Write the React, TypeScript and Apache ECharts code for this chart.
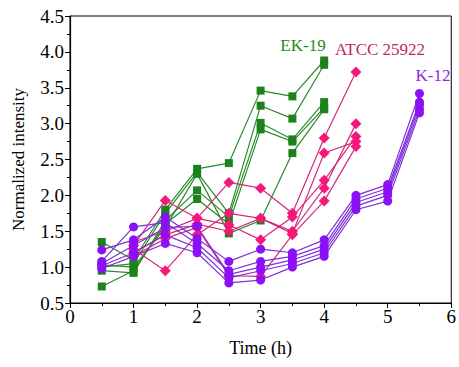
import React, { useEffect, useRef } from "react";
import * as echarts from "echarts";

const ekTimes = [0.5, 1, 1.5, 2, 2.5, 3, 3.5, 4];
const ek19Runs = [
  [1.35, 1.1, 1.8, 2.37, 2.45, 3.46, 3.38, 3.88],
  [1.0, 1.05, 1.75, 2.32, 1.75, 3.25, 3.07, 3.82],
  [0.95, 0.92, 1.65, 2.07, 1.7, 3.01, 2.78, 3.3],
  [0.73, 0.95, 1.6, 1.95, 1.6, 2.92, 2.75, 3.22],
  [1.03, 1.0, 1.55, 2.3, 1.47, 1.65, 2.59, 3.2],
];

const atccTimes = [1, 1.5, 2, 2.5, 3, 3.5, 4, 4.5];
const atccRuns = [
  [1.3, 1.93, 1.68, 2.18, 2.1, 1.75, 2.8, 3.72],
  [1.25, 0.95, 1.45, 1.75, 1.68, 1.47, 2.59, 2.75],
  [1.35, 1.5, 1.68, 1.59, 1.38, 1.7, 2.21, 2.82],
  [1.2, 1.45, 1.6, 1.5, 1.68, 1.5, 2.1, 3.0],
  [1.15, 1.4, 1.55, 0.88, 0.87, 1.45, 1.92, 2.68],
];

const k12Times = [0.5, 1, 1.5, 2, 2.5, 3, 3.5, 4, 4.5, 5, 5.5];
const k12Runs = [
  [1.24, 1.38, 1.7, 1.4, 1.08, 1.25, 1.2, 1.38, 2.0, 2.15, 3.42],
  [1.08, 1.56, 1.62, 1.33, 0.95, 1.08, 1.15, 1.3, 1.95, 2.1, 3.3],
  [1.05, 1.3, 1.55, 1.57, 0.9, 1.0, 1.1, 1.25, 1.9, 2.05, 3.26],
  [1.02, 1.2, 1.45, 1.27, 0.85, 0.95, 1.05, 1.2, 1.85, 2.0, 3.2],
  [0.98, 1.15, 1.33, 1.2, 0.78, 0.82, 1.0, 1.15, 1.8, 1.92, 3.15],
];

const xTicks = { min: 0, max: 6, interval: 1 };
const yTicks = { min: 0.5, max: 4.5, interval: 0.5 };

const groupLabels = ["EK-19", "ATCC 25922", "K-12"];

const FONT = "'Liberation Serif', 'Times New Roman', serif";

export default function App() {
  const ref = useRef<HTMLDivElement>(null);

  useEffect(() => {
    if (!ref.current) return;
    const chart = echarts.init(ref.current, null, { renderer: "svg" });

    const mk = (
      times: number[],
      runs: number[][],
      name: string,
      symbol: string,
      size: number,
      lineColor: string,
      markColor: string
    ) =>
      runs.map((r, i) => ({
        name: name + i,
        type: "line",
        data: r.map((v, j) => [times[j], v]),
        symbol,
        symbolSize: size,
        lineStyle: { color: lineColor, width: 1.2 },
        itemStyle: { color: markColor },
        z: 2,
      }));

    const series = [
      ...mk(ekTimes, ek19Runs, "ek", "rect", 8, "#2b8a2b", "#1c821c"),
      ...mk(atccTimes, atccRuns, "atcc", "diamond", 11, "#d42a7c", "#f5177a"),
      ...mk(k12Times, k12Runs, "k12", "circle", 9, "#7d2fd8", "#8a10f5"),
    ];

    chart.setOption({
      animation: false,
      grid: {
        left: 70,
        right: 4,
        top: 16,
        bottom: 64,
        show: true,
        borderColor: "#000",
        borderWidth: 1,
        backgroundColor: "transparent",
      },
      xAxis: {
        type: "value",
        min: xTicks.min,
        max: xTicks.max,
        interval: xTicks.interval,
        name: "Time (h)",
        nameLocation: "middle",
        nameGap: 36,
        nameTextStyle: { fontFamily: FONT, fontSize: 18, color: "#000" },
        axisLine: { show: true, onZero: false, lineStyle: { color: "#000", width: 1.2 } },
        axisTick: { show: true, inside: false, length: 5, lineStyle: { color: "#000" } },
        minorTick: { show: true, splitNumber: 2, length: 3, lineStyle: { color: "#000" } },
        splitLine: { show: false },
        axisLabel: {
          fontFamily: FONT,
          fontSize: 19,
          color: "#000",
          margin: 4,
          formatter: (v: number) => String(v),
        },
      },
      yAxis: {
        type: "value",
        min: yTicks.min,
        max: yTicks.max,
        interval: yTicks.interval,
        name: "Normalized intensity",
        nameLocation: "middle",
        nameGap: 43,
        nameTextStyle: { fontFamily: FONT, fontSize: 17, color: "#000" },
        axisLine: { show: true, onZero: false, lineStyle: { color: "#000", width: 1.2 } },
        axisTick: { show: true, inside: false, length: 5, lineStyle: { color: "#000" } },
        minorTick: { show: true, splitNumber: 2, length: 3, lineStyle: { color: "#000" } },
        splitLine: { show: false },
        axisLabel: {
          fontFamily: FONT,
          fontSize: 19,
          color: "#000",
          margin: 6,
          formatter: (v: number) => v.toFixed(1),
        },
      },
      graphic: [
        {
          type: "text",
          x: 303,
          y: 45,
          style: {
            text: groupLabels[0],
            fontFamily: FONT,
            fontSize: 17,
            fill: "#238a23",
            textAlign: "center",
            textVerticalAlign: "middle",
          },
          z: 10,
        },
        {
          type: "text",
          x: 380,
          y: 49,
          style: {
            text: groupLabels[1],
            fontFamily: FONT,
            fontSize: 17,
            fill: "#c41f6c",
            textAlign: "center",
            textVerticalAlign: "middle",
          },
          z: 10,
        },
        {
          type: "text",
          x: 433,
          y: 75,
          style: {
            text: groupLabels[2],
            fontFamily: FONT,
            fontSize: 17,
            fill: "#8a2be2",
            textAlign: "center",
            textVerticalAlign: "middle",
          },
          z: 10,
        },
      ],
      series,
    });

    return () => chart.dispose();
  }, []);

  return (
    <div
      ref={ref}
      style={{ position: "fixed", left: 0, top: 0, width: 459, height: 367, background: "#fff" }}
    />
  );
}
